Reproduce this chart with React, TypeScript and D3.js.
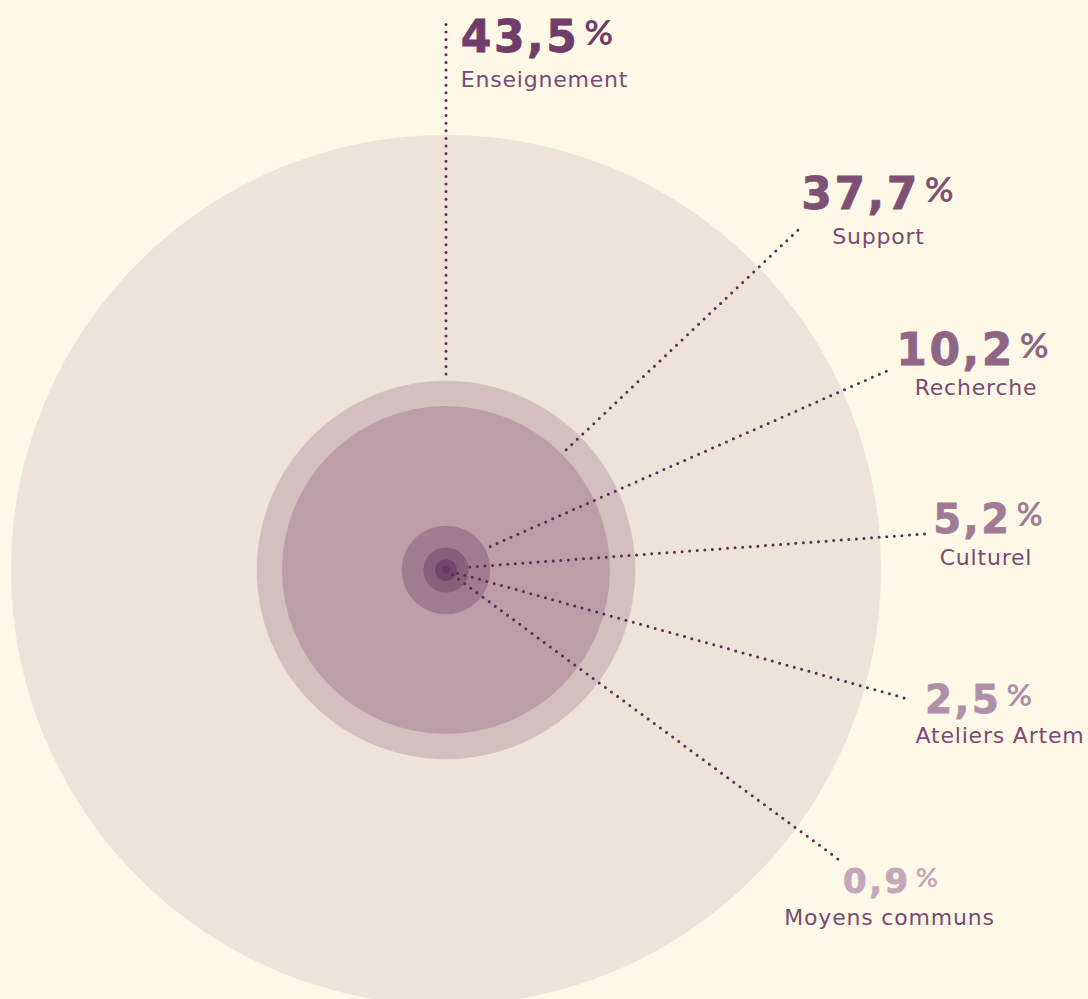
import React from "react";
import * as d3 from "d3";

// ---- data ----
const categories = ["Enseignement", "Support", "Recherche", "Culturel", "Ateliers Artem", "Moyens communs"];
const values = [43.5, 37.7, 10.2, 5.2, 2.5, 0.9];
const valueLabels = ["43,5", "37,7", "10,2", "5,2", "2,5", "0,9"];
const total = 100;

// ---- styles / layout ----
const W = 1088;
const H = 999;
const BG = "#fef8e7";
const totalColor = "#ede3d8";
const circleColors = ["#d3bfbf", "#bc9ea8", "#a07c90", "#87607b", "#74466b", "#6a3762"];
const numberColors = ["#6f3d68", "#7d5074", "#8e6585", "#a07b96", "#b18ea8", "#c4a8b9"];
const labelColor = "#7a4a72";
const lineColor = "#5c2a55";
const numberSizes = [44, 44, 44, 40, 39, 34];

// leader lines in polar terms (degrees, px from centre) and label anchors
const leaders = [
  { a0: -90, r0: 196, a1: -90, r1: 552 },
  { a0: -45, r0: 170, a1: -44, r1: 492 },
  { a0: -28, r0: 50, a1: -24.3, r1: 487 },
  { a0: -7, r0: 24, a1: -4.3, r1: 485 },
  { a0: 15.6, r0: 12, a1: 15.6, r1: 479 },
  { a0: 36.4, r0: 8, a1: 36.4, r1: 490 },
];
const labelPos = [
  { nx: 537, ny: 52, lx: 544.5, ly: 87 },
  { nx: 877.5, ny: 209, lx: 878.5, ly: 244 },
  { nx: 972.5, ny: 365, lx: 976, ly: 395 },
  { nx: 988, ny: 533, lx: 986, ly: 565 },
  { nx: 978.5, ny: 713, lx: 1000, ly: 743 },
  { nx: 890.5, ny: 893, lx: 889.5, ly: 925 },
];

export default function App() {
  const cx = 446;
  const cy = 570;
  const r = d3.scaleLinear().domain([0, total]).range([0, 435]);
  const pt = (a: number, d: number) => {
    const t = (a * Math.PI) / 180;
    return [cx + d * Math.cos(t), cy + d * Math.sin(t)];
  };
  const numFont = "'DejaVu Sans', sans-serif";
  const pctFont = "Lato, sans-serif";
  const labFont = "'DejaVu Sans', sans-serif";

  return (
    <svg
      width={W}
      height={H}
      style={{ position: "absolute", left: 0, top: 0, display: "block" }}
    >
      <rect x={0} y={0} width={W} height={H} fill={BG} />
      <circle cx={cx} cy={cy} r={r(total)} fill={totalColor} />
      {values.map((v, i) => (
        <circle key={"c" + i} cx={cx} cy={cy} r={r(v)} fill={circleColors[i]} />
      ))}
      {leaders.map((l, i) => {
        const [x0, y0] = pt(l.a0, l.r0);
        const [x1, y1] = pt(l.a1, l.r1);
        return (
          <line
            key={"l" + i}
            x1={x0}
            y1={y0}
            x2={x1}
            y2={y1}
            stroke={lineColor}
            strokeWidth={3}
            strokeLinecap="round"
            strokeDasharray="0 7.6"
          />
        );
      })}
      {categories.map((c, i) => {
        const p = labelPos[i];
        const fs = numberSizes[i];
        return (
          <g key={"t" + i}>
            <text
              x={p.nx}
              y={p.ny}
              textAnchor="middle"
              fill={numberColors[i]}
              stroke={numberColors[i]}
              strokeWidth={0.8}
              fontFamily={numFont}
              fontWeight={700}
              fontSize={fs}
              letterSpacing={2.5}
            >
              <tspan>{valueLabels[i]}</tspan>
              <tspan
                dx={5}
                dy={-fs * 0.17}
                fontFamily={pctFont}
                fontWeight={700}
                fontSize={fs * 0.8}
                letterSpacing={0}
                stroke="none"
              >
                %
              </tspan>
            </text>
            <text
              x={p.lx}
              y={p.ly}
              textAnchor="middle"
              fill={labelColor}
              fontFamily={labFont}
              fontSize={22}
              letterSpacing={0.8}
            >
              {c}
            </text>
          </g>
        );
      })}
    </svg>
  );
}
